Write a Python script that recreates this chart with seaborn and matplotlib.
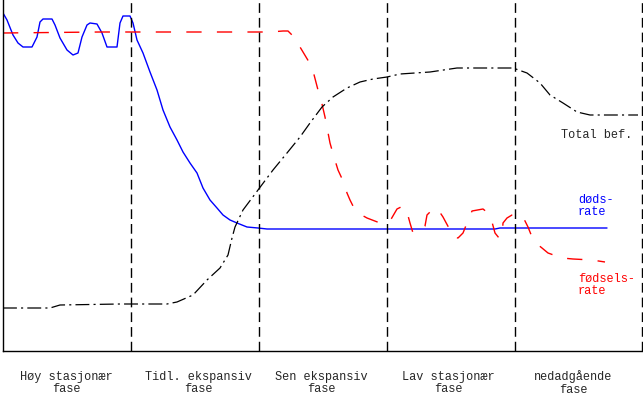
import matplotlib
matplotlib.use("Agg")
import matplotlib.pyplot as plt
import seaborn as sns
import pandas as pd

sns.set_style("white")
plt.rcParams['font.family'] = ['Liberation Mono', 'DejaVu Sans Mono']
plt.rcParams['lines.scale_dashes'] = False

# time runs left to right over five phases, level 0 at the bottom
death_x = [3, 7, 13, 18, 23, 32, 37, 40, 43, 52, 55, 60, 67, 73, 78, 82, 87, 90, 97, 102,
           107, 117, 120, 123, 130, 133, 137, 143, 150, 157, 163, 170, 177, 183, 190, 197,
           203, 210, 217, 223, 230, 237, 247, 258, 267, 400, 495, 500, 607]
death_y = [338, 331, 316, 308, 304, 304, 314, 329, 332, 332, 326, 313, 301, 296, 298, 314,
           326, 328, 327, 318, 304, 304, 328, 335, 335, 328, 311, 298, 279, 261, 241, 224,
           211, 199, 188, 178, 163, 151, 143, 136, 131, 128, 124, 123, 122, 122, 122, 123, 123]

birth_x = [3, 100, 200, 270, 283, 288, 292, 300, 306, 312, 318, 322, 325, 330, 334, 338,
           344, 347, 350, 354, 358, 367, 380, 390, 397, 403, 407, 410, 413, 418, 425, 427,
           432, 437, 443, 450, 453, 458, 463, 467, 472, 483, 488, 492, 495, 499, 502, 503,
           507, 512, 518, 523, 528, 532, 537, 542, 548, 562, 573, 592, 605]
birth_y = [318, 319, 319, 319, 320, 320, 316, 304, 294, 284, 261, 247, 234, 208, 194, 181,
           168, 158, 151, 143, 138, 133, 128, 130, 142, 145, 139, 128, 118, 119, 125, 136,
           141, 143, 134, 121, 114, 113, 118, 128, 140, 142, 138, 129, 118, 113, 114, 128,
           133, 136, 137, 134, 124, 114, 107, 103, 98, 93, 92, 91, 89]

total_x = [3, 50, 60, 120, 167, 177, 193, 207, 220, 228, 232, 235, 243, 258, 273, 287, 300,
           310, 322, 333, 347, 360, 373, 387, 400, 430, 457, 513, 527, 540, 550, 563, 577,
           590, 638]
total_y = [43, 43, 46, 47, 47, 49, 56, 71, 83, 96, 113, 124, 141, 161, 181, 198, 214, 228,
           244, 254, 263, 269, 272, 274, 277, 279, 283, 283, 278, 268, 256, 248, 239, 236, 236]

phase_bounds = [131, 259, 387, 515, 642]
phase_labels = ["Høy stasjonær\nfase", "Tidl. ekspansiv\nfase", "Sen ekspansiv\nfase",
                "Lav stasjonær\nfase", "nedadgående\nfase"]
label_x = [66, 198, 321, 448, 573]

fig = plt.figure(figsize=(6.43, 3.99), dpi=100)
ax = fig.add_axes([3 / 643, 48 / 399, 640 / 643, 351 / 399])

death = pd.DataFrame({"t": death_x, "v": death_y})
birth = pd.DataFrame({"t": birth_x, "v": birth_y})
total = pd.DataFrame({"t": total_x, "v": total_y})

sns.lineplot(data=death, x="t", y="v", ax=ax, color="blue", linewidth=1, sort=False)
l_birth = sns.lineplot(data=birth, x="t", y="v", ax=ax, color="red", linewidth=1, sort=False).lines[-1]
l_birth.set_dashes((11, 11))
l_total = sns.lineplot(data=total, x="t", y="v", ax=ax, color="black", linewidth=0.9, sort=False).lines[-1]
l_total.set_dashes((10, 3, 1.5, 3))

for b in phase_bounds:
    ax.axvline(b, color="black", linewidth=1, dashes=(7, 3.6))

fs = 8.6
for x, lab in zip(label_x, phase_labels):
    ax.text(x, -32, lab, ha="center", va="center", multialignment="center",
            fontsize=fs, linespacing=1.1)

ax.text(561, 216, "Total bef.", ha="left", va="center", fontsize=fs)
ax.text(578, 145, "døds-\nrate", ha="left", va="center", fontsize=fs, color="blue", linespacing=1.1)
ax.text(578, 66, "fødsels-\nrate", ha="left", va="center", fontsize=fs, color="red", linespacing=1.1)

ax.set_xlim(3, 643)
ax.set_ylim(0, 351)
ax.set_xticks([])
ax.set_yticks([])
ax.set_xlabel("")
ax.set_ylabel("")
sns.despine(ax=ax, top=True, right=True)
for s in ["left", "bottom"]:
    ax.spines[s].set_color("black")
    ax.spines[s].set_linewidth(1)

fig.savefig("out.png", dpi=100)
